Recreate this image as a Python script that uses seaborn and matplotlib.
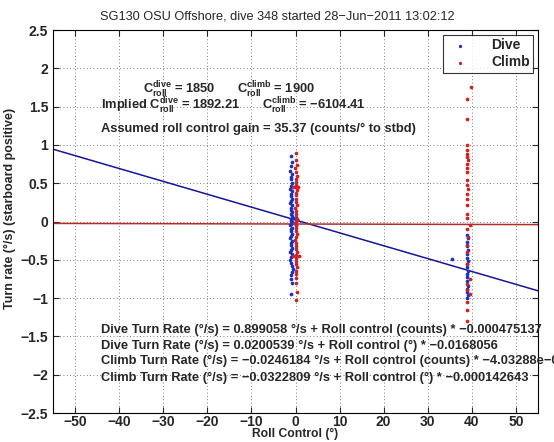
import numpy as np
import pandas as pd
import matplotlib
matplotlib.use("Agg")
import matplotlib.pyplot as plt
import seaborn as sns

# --- data ---
dive_roll_0 = [-1.1, -0.9, -1.0, -1.2, -0.8, -1.0, -1.1, -0.9, -1.0, -1.2, -0.8, -1.0,
               -1.1, -0.9, -1.0, -1.2, -0.8, -1.0, -1.1, -0.9, -1.0, -0.7, -0.5, -1.0,
               -1.1, -0.9, -1.0, -1.2, -0.8, -1.0, -1.1, -0.9, -1.0, -1.2, -0.8, -1.0,
               -1.1, -0.9, -1.0, -1.2, -0.8, -1.0, -1.3, -1.0, -0.9, -0.6, 0.3, 0.1]
dive_rate_0 = [0.85, 0.78, 0.72, 0.66, 0.62, 0.58, 0.55, 0.50, 0.47, 0.43, 0.40, 0.36,
               0.33, 0.30, 0.27, 0.24, 0.21, 0.18, 0.15, 0.12, 0.10, 0.07, 0.05, 0.03,
               0.01, -0.01, -0.03, -0.05, -0.08, -0.10, -0.13, -0.16, -0.19, -0.22, -0.25, -0.28,
               -0.31, -0.34, -0.37, -0.40, -0.43, -0.46, -0.50, -0.54, -0.58, -0.62, 0.02, -0.04]
dive_roll_40 = [39.0, 39.1, 38.9, 39.0, 39.1, 38.9, 39.0, 39.2, 38.9, 39.0, 39.1, 39.0,
                38.9, 39.0, 39.1, 39.0, 35.5, 38.9, 39.1, 39.0]
dive_rate_40 = [-0.17, -0.22, -0.27, -0.32, -0.37, -0.42, -0.47, -0.52, -0.56, -0.60, -0.64, -0.68,
                -0.72, -0.78, -0.84, -0.88, -0.49, -0.92, -0.96, -1.00]
dive_extra_roll = [-0.9, -1.0, -1.1, -0.9, -1.0]
dive_extra_rate = [-0.66, -0.70, -0.75, -0.80, -0.95]

climb_roll_0 = [0.2, 0.0, 0.3, -0.1, 0.1, 0.3, 0.0, 0.2, 0.1, -0.2, 0.3, 0.0,
                0.2, 0.1, 0.0, 0.3, -0.1, 0.2, 0.1, 0.0, 0.3, 0.2, -0.3, 0.1,
                0.0, 0.2, 0.3, 0.1, -0.1, 0.0, 0.2, 0.1, 0.3, 0.0, 0.2, 0.1,
                0.0, 0.3, 0.2, 0.1, 0.0, 0.2, 0.3, 0.1, -0.6, 0.6, -0.5, 0.7]
climb_rate_0 = [0.89, 0.80, 0.74, 0.70, 0.65, 0.60, 0.56, 0.52, 0.48, 0.45, 0.41, 0.37,
                0.34, 0.30, 0.26, 0.22, 0.18, 0.14, 0.10, 0.06, 0.03, 0.00, -0.02, -0.05,
                -0.08, -0.12, -0.16, -0.20, -0.24, -0.28, -0.32, -0.36, -0.40, -0.44, -0.48, -0.52,
                -0.56, -0.60, -0.64, -0.68, -0.74, -0.80, -0.92, -1.02, 0.45, 0.45, -0.45, -0.45]
climb_roll_40 = [39.7, 39.0, 38.9, 39.0, 39.0, 38.9, 39.0, 39.1, 38.9, 39.0, 39.0, 38.9,
                 39.0, 39.1, 39.0, 38.9, 39.0, 39.6, 39.0, 38.9, 39.0, 39.1, 38.9, 39.0,
                 39.0, 39.5, 38.9, 39.0, 39.6, 39.0, 38.9, 39.0]
climb_rate_40 = [1.76, 1.60, 1.34, 1.00, 0.93, 0.88, 0.84, 0.80, 0.75, 0.70, 0.65, 0.54,
                 0.48, 0.42, 0.36, 0.30, 0.22, -0.05, 0.10, 0.05, -0.10, -0.20, -0.30, -0.40,
                 -0.55, -0.75, -0.82, -0.90, -0.95, -1.05, -1.15, -1.30]

# regression coefficients shown in the annotations
dive_intercept, dive_slope = 0.0200539, -0.0168056
climb_intercept, climb_slope = -0.0322809, -0.000142643
x_fit = [-55, 55]

title = "SG130 OSU Offshore, dive 348 started 28\u2212Jun\u22122011 13:02:12"
x_ticks = list(range(-50, 51, 10))
y_ticks = [-2.5, -2, -1.5, -1, -0.5, 0, 0.5, 1, 1.5, 2, 2.5]

dive = pd.DataFrame({"roll": dive_roll_0 + dive_roll_40 + dive_extra_roll,
                     "rate": dive_rate_0 + dive_rate_40 + dive_extra_rate})
climb = pd.DataFrame({"roll": climb_roll_0 + climb_roll_40,
                      "rate": climb_rate_0 + climb_rate_40})

sns.set_style("ticks")
plt.rcParams["font.family"] = ["Liberation Sans", "DejaVu Sans"]
plt.rcParams["mathtext.default"] = "bf"
plt.rcParams["mathtext.fontset"] = "custom"
plt.rcParams["mathtext.bf"] = "Liberation Sans:bold"
plt.rcParams["mathtext.rm"] = "Liberation Sans"


def mfmt(v):
    # matlab style labels with a real minus sign
    s = ("%g" % v)
    return s.replace("-", "\u2212")


blue = "#1c2fc4"
red = "#cc2222"

fig = plt.figure(figsize=(5.54, 4.42), dpi=100)
ax = fig.add_axes([0.0957, 0.0656, 0.8754, 0.8664])

sns.scatterplot(data=dive, x="roll", y="rate", ax=ax, color=blue, s=7,
                linewidth=0, label="Dive", zorder=3)
sns.scatterplot(data=climb, x="roll", y="rate", ax=ax, color=red, s=7,
                linewidth=0, label="Climb", zorder=3)

ax.plot(x_fit, [dive_intercept + dive_slope * v for v in x_fit], color="#15159a", lw=1.1, zorder=2)
ax.plot(x_fit, [climb_intercept + climb_slope * v for v in x_fit], color="#b82a2a", lw=1.1, zorder=2)

ax.set_xlim(-55, 55)
ax.set_ylim(-2.5, 2.5)
ax.set_xticks(x_ticks)
ax.set_yticks(y_ticks)
ax.set_xticklabels([mfmt(v) for v in x_ticks])
ax.set_yticklabels([mfmt(v) for v in y_ticks])
ax.tick_params(direction="in", top=True, right=True, length=4, width=0.8, labelsize=10)
ax.tick_params(axis="x", pad=1.5)
for lab in ax.get_xticklabels() + ax.get_yticklabels():
    lab.set_fontweight("bold")
ax.grid(True, linestyle=(0, (1, 3)), color="#555555", linewidth=0.6)
for sp in ax.spines.values():
    sp.set_linewidth(0.8)
    sp.set_color("black")

ax.set_xlabel("Roll Control (\u00b0)", fontsize=8.7, fontweight="bold")
ax.xaxis.set_label_coords(0.5, -0.04)
ax.set_ylabel("Turn rate (\u00b0/s) (starboard positive)", fontsize=9, fontweight="bold")
ax.yaxis.set_label_coords(-0.076, 0.535)
fig.text(0.5, 0.957, title, fontsize=9.2, ha="center", va="baseline")

fs = 9.3
ax.text(-34.6, 1.674, r"C$^{dive}_{roll}$ = 1850", fontsize=fs, fontweight="bold", va="baseline")
ax.text(-13.3, 1.674, r"C$^{climb}_{roll}$ = 1900", fontsize=fs, fontweight="bold", va="baseline")
ax.text(-44.1, 1.456, r"Implied C$^{dive}_{roll}$ = 1892.21", fontsize=fs, fontweight="bold", va="baseline")
ax.text(-7.6, 1.456, "C$^{climb}_{roll}$ = \u22126104.41", fontsize=fs, fontweight="bold", va="baseline")
ax.text(-44.1, 1.172, "Assumed roll control gain = 35.37 (counts/\u00b0 to stbd)",
        fontsize=fs, fontweight="bold", va="baseline")

bottom_lines = [
    "Dive Turn Rate (\u00b0/s) = 0.899058 \u00b0/s + Roll control (counts) * \u22120.000475137",
    "Dive Turn Rate (\u00b0/s) = 0.0200539 \u00b0/s + Roll control (\u00b0) * \u22120.0168056",
    "Climb Turn Rate (\u00b0/s) = \u22120.0246184 \u00b0/s + Roll control (counts) * \u22124.03288e\u221206",
    "Climb Turn Rate (\u00b0/s) = \u22120.0322809 \u00b0/s + Roll control (\u00b0) * \u22120.000142643",
]
for yv, s in zip([-1.456, -1.66, -1.86, -2.08], bottom_lines):
    ax.text(-44.1, yv, s, fontsize=fs, fontweight="bold", va="baseline", clip_on=False)

leg = ax.legend(loc="upper right", frameon=True, fancybox=False, borderaxespad=0.35,
                prop={"weight": "bold", "size": 10}, markerscale=0.9, handletextpad=1.2,
                borderpad=0.25, labelspacing=0.2)
leg.get_frame().set_edgecolor("black")
leg.get_frame().set_linewidth(0.8)

fig.savefig("out.png", dpi=100)
